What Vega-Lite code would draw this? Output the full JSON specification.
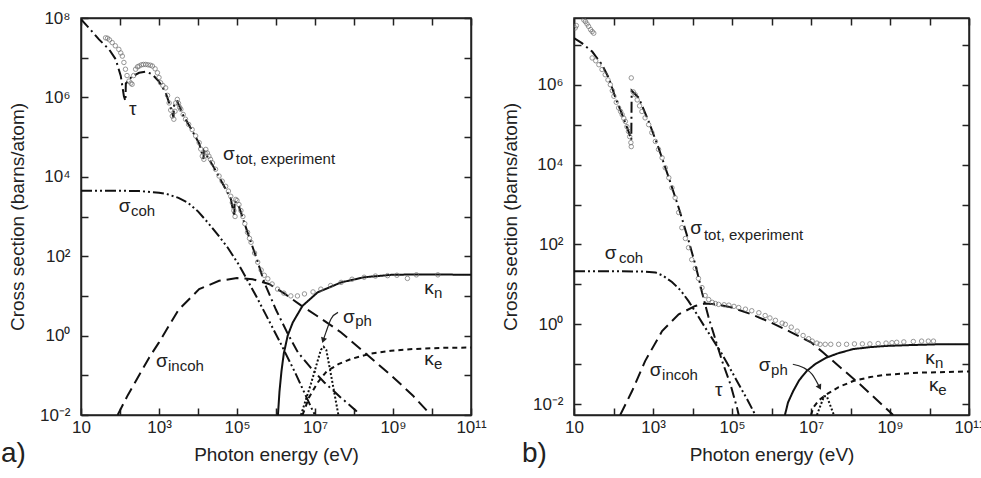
{
"$schema":"https://vega.github.io/schema/vega-lite/v6.json",
"background":"white",
"padding":{"left":0,"top":8,"right":0,"bottom":0},
"spacing":13,
"config":{
 "font":"Liberation Sans",
 "view":{"stroke":"#222","strokeWidth":1.5},
 "axis":{"domainColor":"#222","domainWidth":1.5,"tickColor":"#222","tickWidth":1.5,"tickSize":-7,"labelFont":"Liberation Sans","labelFontSize":17,"labelColor":"#222","titleFont":"Liberation Sans","titleFontSize":19,"titleFontWeight":"normal","titleColor":"#222","grid":false,"labelFlush":false,"labelOverlap":false},
 "axisBottom":{"labelPadding":11,"titlePadding":10},
 "axisLeft":{"labelPadding":18,"titlePadding":12},
 "title":{"font":"Liberation Sans","fontSize":28,"fontWeight":"normal","color":"#222"}
},
"datasets":{
"aLines":[
{"s":"tau","e":1.0,"v":7.97},{"s":"tau","e":1.25,"v":7.70},{"s":"tau","e":1.46,"v":7.46},{"s":"tau","e":1.72,"v":7.21},{"s":"tau","e":1.89,"v":6.96},{"s":"tau","e":2.02,"v":6.54},{"s":"tau","e":2.10,"v":6.03},{"s":"tau","e":2.14,"v":5.91},{"s":"tau","e":2.15,"v":6.35},{"s":"tau","e":2.3,"v":6.52},{"s":"tau","e":2.49,"v":6.62},{"s":"tau","e":2.66,"v":6.65},{"s":"tau","e":2.83,"v":6.58},{"s":"tau","e":3.0,"v":6.40},{"s":"tau","e":3.17,"v":6.12},{"s":"tau","e":3.3,"v":5.75},{"s":"tau","e":3.37,"v":5.5},{"s":"tau","e":3.39,"v":5.85},{"s":"tau","e":3.47,"v":5.9},{"s":"tau","e":3.62,"v":5.55},{"s":"tau","e":3.77,"v":5.30},{"s":"tau","e":4.03,"v":4.84},{"s":"tau","e":4.14,"v":4.45},{"s":"tau","e":4.15,"v":4.65},{"s":"tau","e":4.37,"v":4.3},{"s":"tau","e":4.62,"v":3.85},{"s":"tau","e":4.84,"v":3.45},{"s":"tau","e":4.93,"v":3.0},{"s":"tau","e":4.94,"v":3.4},{"s":"tau","e":5.05,"v":3.25},{"s":"tau","e":5.27,"v":2.6},{"s":"tau","e":5.5,"v":1.95},{"s":"tau","e":5.7,"v":1.34},{"s":"tau","e":6.0,"v":0.65},{"s":"tau","e":6.3,"v":0.05},{"s":"tau","e":6.56,"v":-0.42},{"s":"tau","e":6.9,"v":-0.82},{"s":"tau","e":7.24,"v":-1.18},{"s":"tau","e":7.65,"v":-1.55},{"s":"tau","e":8.05,"v":-1.89},{"s":"tau","e":8.14,"v":-2.0},
{"s":"coh","e":1,"v":3.65},{"s":"coh","e":2,"v":3.65},{"s":"coh","e":2.5,"v":3.64},{"s":"coh","e":3.0,"v":3.60},{"s":"coh","e":3.22,"v":3.56},{"s":"coh","e":3.5,"v":3.47},{"s":"coh","e":3.74,"v":3.35},{"s":"coh","e":4.0,"v":3.13},{"s":"coh","e":4.25,"v":2.85},{"s":"coh","e":4.5,"v":2.55},{"s":"coh","e":4.76,"v":2.22},{"s":"coh","e":5.05,"v":1.78},{"s":"coh","e":5.5,"v":0.98},{"s":"coh","e":6.08,"v":-0.12},{"s":"coh","e":6.5,"v":-0.95},{"s":"coh","e":6.94,"v":-1.89},{"s":"coh","e":7.0,"v":-2.0},
{"s":"incoh","e":1.94,"v":-2.0},{"s":"incoh","e":2.2,"v":-1.5},{"s":"incoh","e":2.49,"v":-1.0},{"s":"incoh","e":2.75,"v":-0.55},{"s":"incoh","e":3.0,"v":-0.17},{"s":"incoh","e":3.5,"v":0.65},{"s":"incoh","e":4.03,"v":1.17},{"s":"incoh","e":4.54,"v":1.38},{"s":"incoh","e":5.0,"v":1.45},{"s":"incoh","e":5.4,"v":1.42},{"s":"incoh","e":5.82,"v":1.30},{"s":"incoh","e":6.2,"v":1.07},{"s":"incoh","e":6.64,"v":0.76},{"s":"incoh","e":7.2,"v":0.4},{"s":"incoh","e":7.67,"v":0.08},{"s":"incoh","e":8.3,"v":-0.45},{"s":"incoh","e":8.95,"v":-1.0},{"s":"incoh","e":9.5,"v":-1.5},{"s":"incoh","e":9.97,"v":-2.0},
{"s":"kn","e":6.05,"v":-2.0},{"s":"kn","e":6.09,"v":-1.4},{"s":"kn","e":6.14,"v":-0.9},{"s":"kn","e":6.2,"v":-0.45},{"s":"kn","e":6.3,"v":0.0},{"s":"kn","e":6.43,"v":0.33},{"s":"kn","e":6.68,"v":0.75},{"s":"kn","e":7.07,"v":1.09},{"s":"kn","e":7.67,"v":1.34},{"s":"kn","e":8.26,"v":1.47},{"s":"kn","e":8.95,"v":1.53},{"s":"kn","e":9.5,"v":1.54},{"s":"kn","e":10.2,"v":1.54},{"s":"kn","e":11,"v":1.53},
{"s":"ke","e":6.68,"v":-2.0},{"s":"ke","e":6.85,"v":-1.55},{"s":"ke","e":7.07,"v":-1.18},{"s":"ke","e":7.3,"v":-0.9},{"s":"ke","e":7.6,"v":-0.72},{"s":"ke","e":7.92,"v":-0.59},{"s":"ke","e":8.4,"v":-0.46},{"s":"ke","e":8.95,"v":-0.38},{"s":"ke","e":9.5,"v":-0.34},{"s":"ke","e":10.2,"v":-0.31},{"s":"ke","e":11,"v":-0.30},
{"s":"ph","e":6.64,"v":-2.0},{"s":"ph","e":6.9,"v":-1.2},{"s":"ph","e":7.15,"v":-0.36},{"s":"ph","e":7.22,"v":-0.28},{"s":"ph","e":7.29,"v":-0.36},{"s":"ph","e":7.45,"v":-1.2},{"s":"ph","e":7.6,"v":-2.0}
],
"aPts":[
{"e":1.63,"v":7.50},{"e":1.68,"v":7.49},{"e":1.73,"v":7.45},{"e":1.80,"v":7.38},{"e":1.88,"v":7.30},{"e":1.97,"v":7.21},{"e":2.02,"v":7.12},{"e":2.06,"v":7.04},{"e":2.10,"v":6.88},{"e":2.14,"v":6.71},{"e":2.18,"v":6.55},{"e":2.23,"v":6.41},{"e":2.28,"v":6.36},{"e":2.31,"v":6.33},{"e":2.35,"v":6.55},{"e":2.40,"v":6.71},{"e":2.45,"v":6.77},{"e":2.49,"v":6.79},{"e":2.55,"v":6.82},{"e":2.60,"v":6.83},{"e":2.66,"v":6.83},{"e":2.72,"v":6.82},{"e":2.78,"v":6.81},{"e":2.83,"v":6.79},{"e":2.90,"v":6.72},{"e":2.96,"v":6.62},{"e":3.00,"v":6.50},{"e":3.04,"v":6.37},{"e":3.10,"v":6.30},{"e":3.17,"v":6.24},{"e":3.22,"v":6.05},{"e":3.26,"v":5.86},{"e":3.30,"v":5.68},{"e":3.34,"v":5.53},{"e":3.38,"v":5.45},{"e":3.41,"v":5.65},{"e":3.43,"v":5.86},{"e":3.47,"v":5.95},{"e":3.50,"v":5.85},{"e":3.53,"v":5.75},{"e":3.56,"v":5.70},{"e":3.62,"v":5.57},{"e":3.68,"v":5.45},{"e":3.76,"v":5.32},{"e":3.85,"v":5.19},{"e":3.94,"v":5.03},{"e":4.03,"v":4.86},{"e":4.07,"v":4.70},{"e":4.11,"v":4.52},{"e":4.15,"v":4.44},{"e":4.18,"v":4.60},{"e":4.20,"v":4.69},{"e":4.24,"v":4.60},{"e":4.28,"v":4.52},{"e":4.32,"v":4.44},{"e":4.37,"v":4.35},{"e":4.45,"v":4.19},{"e":4.54,"v":4.02},{"e":4.62,"v":3.89},{"e":4.71,"v":3.76},{"e":4.78,"v":3.64},{"e":4.84,"v":3.51},{"e":4.88,"v":3.35},{"e":4.92,"v":3.15},{"e":4.95,"v":3.00},{"e":4.97,"v":3.43},{"e":5.00,"v":3.40},{"e":5.05,"v":3.30},{"e":5.10,"v":3.15},{"e":5.15,"v":3.00},{"e":5.20,"v":2.82},{"e":5.27,"v":2.60},{"e":5.32,"v":2.45},{"e":5.36,"v":2.35},{"e":5.45,"v":2.08},{"e":5.53,"v":1.85},{"e":5.62,"v":1.65},{"e":5.70,"v":1.52},{"e":5.79,"v":1.43},{"e":5.90,"v":1.30},{"e":6.04,"v":1.17},{"e":6.2,"v":1.07},{"e":6.38,"v":1.00},{"e":6.55,"v":1.00},{"e":6.73,"v":1.05},{"e":6.95,"v":1.10},{"e":7.15,"v":1.17},{"e":7.4,"v":1.26},{"e":7.67,"v":1.34},{"e":7.95,"v":1.42},{"e":8.26,"v":1.47},{"e":8.55,"v":1.50},{"e":8.86,"v":1.51},{"e":9.1,"v":1.52},{"e":9.37,"v":1.44},{"e":9.6,"v":1.53},{"e":10.15,"v":1.53}
],
"aMain":[
{"t":"τ","e":2.23,"v":5.55},{"t":"σ","e":4.64,"v":4.42},{"t":"σ","e":1.97,"v":3.11},{"t":"σ","e":2.92,"v":-0.80},{"t":"κ","e":9.8,"v":1.04},{"t":"κ","e":9.8,"v":-0.73},{"t":"σ","e":7.72,"v":0.31}
],
"aSub":[
{"t":"tot, experiment","e":4.97,"v":4.32},{"t":"coh","e":2.28,"v":3.02},{"t":"incoh","e":3.23,"v":-0.90},{"t":"n","e":10.05,"v":0.94},{"t":"e","e":10.05,"v":-0.85},{"t":"ph","e":8.03,"v":0.23}
],
"aArrow":[{"e":7.59,"v":0.585},{"e":7.41,"v":0.42},{"e":7.28,"v":0.08},{"e":7.21,"v":-0.12}],
"aHead":[{"e":7.21,"v":-0.12}],
"bLines":[
{"s":"tau","e":1.0,"v":7.17},{"s":"tau","e":1.2,"v":7.04},{"s":"tau","e":1.46,"v":6.83},{"s":"tau","e":1.71,"v":6.5},{"s":"tau","e":1.88,"v":6.17},{"s":"tau","e":2.05,"v":5.67},{"s":"tau","e":2.22,"v":5.25},{"s":"tau","e":2.38,"v":4.83},{"s":"tau","e":2.45,"v":4.62},{"s":"tau","e":2.46,"v":5.85},{"s":"tau","e":2.64,"v":5.67},{"s":"tau","e":2.89,"v":5.08},{"s":"tau","e":3.14,"v":4.42},{"s":"tau","e":3.40,"v":3.67},{"s":"tau","e":3.65,"v":2.92},{"s":"tau","e":3.9,"v":2.1},{"s":"tau","e":4.07,"v":1.5},{"s":"tau","e":4.16,"v":1.15},{"s":"tau","e":4.24,"v":0.8},{"s":"tau","e":4.4,"v":0.2},{"s":"tau","e":4.54,"v":-0.25},{"s":"tau","e":4.75,"v":-0.92},{"s":"tau","e":4.96,"v":-1.5},{"s":"tau","e":5.13,"v":-2.1},{"s":"tau","e":5.17,"v":-2.27},
{"s":"coh","e":1,"v":1.33},{"s":"coh","e":2,"v":1.33},{"s":"coh","e":2.8,"v":1.32},{"s":"coh","e":3.06,"v":1.3},{"s":"coh","e":3.25,"v":1.22},{"s":"coh","e":3.48,"v":1.06},{"s":"coh","e":3.7,"v":0.85},{"s":"coh","e":3.9,"v":0.58},{"s":"coh","e":4.1,"v":0.27},{"s":"coh","e":4.32,"v":-0.08},{"s":"coh","e":4.54,"v":-0.42},{"s":"coh","e":4.75,"v":-0.75},{"s":"coh","e":4.96,"v":-1.12},{"s":"coh","e":5.17,"v":-1.5},{"s":"coh","e":5.38,"v":-1.87},{"s":"coh","e":5.59,"v":-2.27},
{"s":"incoh","e":2.17,"v":-2.27},{"s":"incoh","e":2.47,"v":-1.67},{"s":"incoh","e":2.8,"v":-0.92},{"s":"incoh","e":3.23,"v":-0.17},{"s":"incoh","e":3.65,"v":0.25},{"s":"incoh","e":4.07,"v":0.46},{"s":"incoh","e":4.32,"v":0.52},{"s":"incoh","e":4.6,"v":0.5},{"s":"incoh","e":5.0,"v":0.42},{"s":"incoh","e":5.5,"v":0.25},{"s":"incoh","e":6.0,"v":0.04},{"s":"incoh","e":6.5,"v":-0.2},{"s":"incoh","e":7.0,"v":-0.45},{"s":"incoh","e":7.3,"v":-0.7},{"s":"incoh","e":7.65,"v":-1.0},{"s":"incoh","e":8.24,"v":-1.5},{"s":"incoh","e":9.08,"v":-2.27},
{"s":"kn","e":6.34,"v":-2.27},{"s":"kn","e":6.42,"v":-1.95},{"s":"kn","e":6.55,"v":-1.67},{"s":"kn","e":6.7,"v":-1.4},{"s":"kn","e":6.89,"v":-1.17},{"s":"kn","e":7.1,"v":-1.0},{"s":"kn","e":7.4,"v":-0.83},{"s":"kn","e":7.7,"v":-0.72},{"s":"kn","e":8.07,"v":-0.62},{"s":"kn","e":8.5,"v":-0.57},{"s":"kn","e":8.92,"v":-0.54},{"s":"kn","e":9.5,"v":-0.52},{"s":"kn","e":10.2,"v":-0.5},{"s":"kn","e":11,"v":-0.5},
{"s":"ke","e":7.0,"v":-2.27},{"s":"ke","e":7.06,"v":-2.08},{"s":"ke","e":7.2,"v":-1.9},{"s":"ke","e":7.4,"v":-1.75},{"s":"ke","e":7.7,"v":-1.57},{"s":"ke","e":8.07,"v":-1.42},{"s":"ke","e":8.5,"v":-1.32},{"s":"ke","e":8.92,"v":-1.26},{"s":"ke","e":9.76,"v":-1.21},{"s":"ke","e":11,"v":-1.18},
{"s":"ph","e":7.15,"v":-2.27},{"s":"ph","e":7.33,"v":-1.8},{"s":"ph","e":7.4,"v":-1.8},{"s":"ph","e":7.58,"v":-2.27}
],
"bPts":[
{"e":1.03,"v":7.42},{"e":1.06,"v":7.48},{"e":1.25,"v":7.62},{"e":1.29,"v":7.58},{"e":1.33,"v":7.52},{"e":1.37,"v":7.46},{"e":1.42,"v":7.38},{"e":1.46,"v":7.33},{"e":1.50,"v":7.29},
{"e":1.46,"v":6.67},{"e":1.55,"v":6.6},{"e":1.63,"v":6.5},{"e":1.71,"v":6.38},{"e":1.79,"v":6.25},{"e":1.86,"v":6.12},{"e":1.92,"v":6.0},{"e":1.97,"v":5.85},{"e":2.01,"v":5.71},{"e":2.07,"v":5.56},{"e":2.13,"v":5.42},{"e":2.18,"v":5.33},{"e":2.22,"v":5.25},{"e":2.26,"v":5.16},{"e":2.30,"v":5.08},{"e":2.34,"v":4.95},{"e":2.38,"v":4.83},{"e":2.41,"v":4.7},{"e":2.44,"v":4.55},{"e":2.45,"v":4.45},{"e":2.45,"v":6.17},{"e":2.5,"v":5.82},{"e":2.55,"v":5.75},{"e":2.6,"v":5.62},{"e":2.66,"v":5.47},{"e":2.72,"v":5.33},{"e":2.8,"v":5.17},{"e":2.89,"v":5.0},{"e":2.97,"v":4.8},{"e":3.06,"v":4.58},{"e":3.14,"v":4.38},{"e":3.23,"v":4.17},{"e":3.31,"v":3.92},{"e":3.40,"v":3.67},{"e":3.48,"v":3.42},{"e":3.56,"v":3.17},{"e":3.65,"v":2.8},{"e":3.73,"v":2.42},{"e":3.82,"v":2.15},{"e":3.90,"v":1.92},{"e":3.98,"v":1.62},{"e":4.07,"v":1.4},{"e":4.15,"v":1.15},{"e":4.24,"v":0.92},{"e":4.32,"v":0.72},{"e":4.41,"v":0.62},{"e":4.5,"v":0.55},{"e":4.58,"v":0.52},{"e":4.66,"v":0.5},{"e":4.8,"v":0.49},{"e":4.92,"v":0.48},{"e":5.05,"v":0.45},{"e":5.17,"v":0.42},{"e":5.34,"v":0.38},{"e":5.5,"v":0.34},{"e":5.68,"v":0.29},{"e":5.84,"v":0.22},{"e":5.96,"v":0.16},{"e":6.1,"v":0.1},{"e":6.27,"v":0.03},{"e":6.35,"v":0.0},{"e":6.5,"v":-0.07},{"e":6.65,"v":-0.17},{"e":6.8,"v":-0.28},{"e":6.94,"v":-0.36},{"e":7.03,"v":-0.42},{"e":7.15,"v":-0.47},{"e":7.23,"v":-0.5},{"e":7.36,"v":-0.5},{"e":7.5,"v":-0.5},{"e":7.7,"v":-0.5},{"e":7.9,"v":-0.5},{"e":8.1,"v":-0.49},{"e":8.3,"v":-0.49},{"e":8.49,"v":-0.49},{"e":8.7,"v":-0.48},{"e":8.9,"v":-0.47},{"e":9.05,"v":-0.46},{"e":9.17,"v":-0.45},{"e":9.35,"v":-0.44},{"e":9.59,"v":-0.43},{"e":9.8,"v":-0.42},{"e":9.97,"v":-0.42},{"e":10.1,"v":-0.42}
],
"bMain":[
{"t":"σ","e":3.94,"v":2.25},{"t":"σ","e":1.78,"v":1.63},{"t":"σ","e":2.92,"v":-1.3},{"t":"τ","e":4.57,"v":-1.8},{"t":"σ","e":5.68,"v":-1.18},{"t":"κ","e":9.89,"v":-1.0},{"t":"κ","e":9.99,"v":-1.68}
],
"bSub":[
{"t":"tot, experiment","e":4.29,"v":2.1},{"t":"coh","e":2.14,"v":1.53},{"t":"incoh","e":3.23,"v":-1.4},{"t":"ph","e":5.99,"v":-1.28},{"t":"n","e":10.14,"v":-1.1},{"t":"e","e":10.22,"v":-1.78}
],
"bArrow":[{"e":6.54,"v":-1.0},{"e":6.8,"v":-1.08},{"e":7.03,"v":-1.25},{"e":7.22,"v":-1.58}],
"bHead":[{"e":7.22,"v":-1.58}]
},
"hconcat":[
{
 "width":390,"height":397,
 "title":{"text":"a)","orient":"bottom","anchor":"start","frame":"group","dx":-80,"offset":-24},
 "layer":[
  {"data":{"name":"aLines"},"mark":{"type":"line","strokeWidth":2,"color":"#111","clip":true},
   "encoding":{
    "x":{"field":"e","type":"quantitative","scale":{"domain":[1,11],"nice":false,"zero":false},"axis":{"orient":"bottom","values":[1,2,3,4,5,6,7,8,9,10,11],"labelExpr":"datum.value==1?'10':datum.value==3?'10³':datum.value==5?'10⁵':datum.value==7?'10⁷':datum.value==9?'10⁹':datum.value==11?'10¹¹':''","title":"Photon energy (eV)"}},
    "y":{"field":"v","type":"quantitative","scale":{"domain":[-2,8],"nice":false,"zero":false},"axis":{"orient":"left","values":[-2,-1,0,1,2,3,4,5,6,7,8],"labelExpr":"datum.value==-2?'10⁻²':datum.value==0?'10⁰':datum.value==2?'10²':datum.value==4?'10⁴':datum.value==6?'10⁶':datum.value==8?'10⁸':''","title":"Cross section (barns/atom)"}},
    "strokeDash":{"field":"s","type":"nominal","scale":{"domain":["tau","coh","incoh","kn","ke","ph"],"range":[[11,4,2,4],[11,3,2,3,2,3],[12,6],[1,0],[5,4],[2,2]]},"legend":null}
   }},
  {"data":{"name":"aLines"},"mark":{"type":"point","opacity":0},
   "encoding":{
    "x":{"field":"e","type":"quantitative","scale":{"domain":[1,11],"nice":false,"zero":false},"axis":{"orient":"top","values":[1,2,3,4,5,6,7,8,9,10,11],"labels":false,"title":null}},
    "y":{"field":"v","type":"quantitative","scale":{"domain":[-2,8],"nice":false,"zero":false},"axis":{"orient":"right","values":[-2,-1,0,1,2,3,4,5,6,7,8],"labels":false,"title":null}}
   }},
  {"data":{"name":"aPts"},"mark":{"type":"point","shape":"circle","filled":false,"size":20,"stroke":"#6a6a6a","strokeWidth":1,"clip":true},
   "encoding":{"x":{"field":"e","type":"quantitative","axis":null},"y":{"field":"v","type":"quantitative","axis":null}}},
  {"data":{"name":"aMain"},"mark":{"type":"text","align":"left","baseline":"alphabetic","fontSize":19,"color":"#222"},
   "encoding":{"x":{"field":"e","type":"quantitative","axis":null},"y":{"field":"v","type":"quantitative","axis":null},"text":{"field":"t"}}},
  {"data":{"name":"aSub"},"mark":{"type":"text","align":"left","baseline":"alphabetic","fontSize":15,"color":"#222"},
   "encoding":{"x":{"field":"e","type":"quantitative","axis":null},"y":{"field":"v","type":"quantitative","axis":null},"text":{"field":"t"}}},
  {"data":{"name":"aArrow"},"mark":{"type":"line","strokeWidth":1.2,"color":"#222","interpolate":"monotone"},
   "encoding":{"x":{"field":"e","type":"quantitative","axis":null},"y":{"field":"v","type":"quantitative","axis":null}}},
  {"data":{"name":"aHead"},"mark":{"type":"point","shape":"triangle-down","filled":true,"size":40,"color":"#222","opacity":1,"angle":18},
   "encoding":{"x":{"field":"e","type":"quantitative","axis":null},"y":{"field":"v","type":"quantitative","axis":null}}}
 ],
 "resolve":{"axis":{"x":"independent","y":"independent"}}
},
{
 "width":395,"height":397,
 "title":{"text":"b)","orient":"bottom","anchor":"start","frame":"group","dx":-52,"offset":-24},
 "layer":[
  {"data":{"name":"bLines"},"mark":{"type":"line","strokeWidth":2,"color":"#111","clip":true},
   "encoding":{
    "x":{"field":"e","type":"quantitative","scale":{"domain":[1,11],"nice":false,"zero":false},"axis":{"orient":"bottom","values":[1,2,3,4,5,6,7,8,9,10,11],"labelExpr":"datum.value==1?'10':datum.value==3?'10³':datum.value==5?'10⁵':datum.value==7?'10⁷':datum.value==9?'10⁹':datum.value==11?'10¹¹':''","title":"Photon energy (eV)"}},
    "y":{"field":"v","type":"quantitative","scale":{"domain":[-2.27,7.67],"nice":false,"zero":false},"axis":{"orient":"left","values":[-2,-1,0,1,2,3,4,5,6,7],"labelExpr":"datum.value==-2?'10⁻²':datum.value==0?'10⁰':datum.value==2?'10²':datum.value==4?'10⁴':datum.value==6?'10⁶':''","title":"Cross section (barns/atom)"}},
    "strokeDash":{"field":"s","type":"nominal","scale":{"domain":["tau","coh","incoh","kn","ke","ph"],"range":[[11,4,2,4],[11,3,2,3,2,3],[12,6],[1,0],[5,4],[2,2]]},"legend":null}
   }},
  {"data":{"name":"bLines"},"mark":{"type":"point","opacity":0},
   "encoding":{
    "x":{"field":"e","type":"quantitative","scale":{"domain":[1,11],"nice":false,"zero":false},"axis":{"orient":"top","values":[1,2,3,4,5,6,7,8,9,10,11],"labels":false,"title":null}},
    "y":{"field":"v","type":"quantitative","scale":{"domain":[-2.27,7.67],"nice":false,"zero":false},"axis":{"orient":"right","values":[-2,-1,0,1,2,3,4,5,6,7],"labels":false,"title":null}}
   }},
  {"data":{"name":"bPts"},"mark":{"type":"point","shape":"circle","filled":false,"size":20,"stroke":"#6a6a6a","strokeWidth":1,"clip":true},
   "encoding":{"x":{"field":"e","type":"quantitative","axis":null},"y":{"field":"v","type":"quantitative","axis":null}}},
  {"data":{"name":"bMain"},"mark":{"type":"text","align":"left","baseline":"alphabetic","fontSize":19,"color":"#222"},
   "encoding":{"x":{"field":"e","type":"quantitative","axis":null},"y":{"field":"v","type":"quantitative","axis":null},"text":{"field":"t"}}},
  {"data":{"name":"bSub"},"mark":{"type":"text","align":"left","baseline":"alphabetic","fontSize":15,"color":"#222"},
   "encoding":{"x":{"field":"e","type":"quantitative","axis":null},"y":{"field":"v","type":"quantitative","axis":null},"text":{"field":"t"}}},
  {"data":{"name":"bArrow"},"mark":{"type":"line","strokeWidth":1.2,"color":"#222","interpolate":"monotone"},
   "encoding":{"x":{"field":"e","type":"quantitative","axis":null},"y":{"field":"v","type":"quantitative","axis":null}}},
  {"data":{"name":"bHead"},"mark":{"type":"point","shape":"triangle-down","filled":true,"size":40,"color":"#222","opacity":1,"angle":332},
   "encoding":{"x":{"field":"e","type":"quantitative","axis":null},"y":{"field":"v","type":"quantitative","axis":null}}}
 ],
 "resolve":{"axis":{"x":"independent","y":"independent"}}
}
]
}
